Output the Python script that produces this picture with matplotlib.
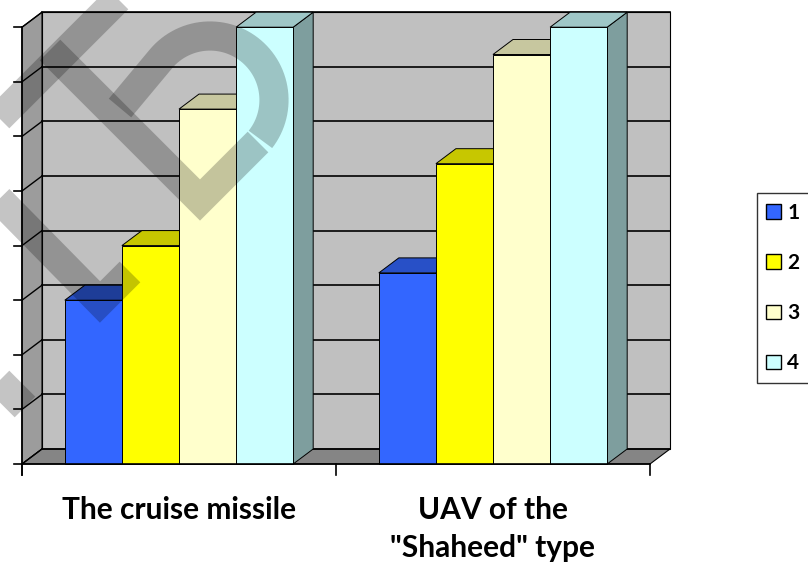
import numpy as np
import matplotlib.pyplot as plt
from matplotlib.patches import Polygon, Patch
from matplotlib.colors import to_rgb

# data
categories = ['The cruise missile', 'UAV of the\n"Shaheed" type']
series_names = ['1', '2', '3', '4']
series_1 = [3.0, 3.5]
series_2 = [4.0, 5.5]
series_3 = [6.5, 7.5]
series_4 = [8.0, 8.0]
series_colors = ['#3366FF', '#FFFF00', '#FFFFCC', '#CCFFFF']
y_ticks = [0, 1, 2, 3, 4, 5, 6, 7, 8]

all_series = [series_1, series_2, series_3, series_4]

# 3d look settings
n_cat = len(categories)
n_ser = len(all_series)
gap = 1.5                       # gap width in bar widths
bar_w = 1.0 / (n_ser + gap)
dx, dy = 0.0637, 0.275          # depth offset
y_top = y_ticks[-1]


def shade(c, f):
    r, g, b = to_rgb(c)
    return (r * f, g * f, b * f)


fig = plt.figure(figsize=(8.08, 5.62), dpi=100)
ax = fig.add_axes([0, 0, 1, 1])
ax.set_xlim(-22 / 314, 786 / 314)
ax.set_ylim(-98 / 54.6, 464 / 54.6)
ax.axis('off')

# walls and floor
ax.add_patch(Polygon([(dx, dy), (n_cat + dx, dy), (n_cat + dx, y_top + dy), (dx, y_top + dy)],
                     fc='#C0C0C0', ec='black', lw=0.8, zorder=1))
ax.add_patch(Polygon([(0, 0), (dx, dy), (dx, y_top + dy), (0, y_top)],
                     fc='#9C9C9C', ec='black', lw=0.8, zorder=1))
ax.add_patch(Polygon([(0, 0), (n_cat, 0), (n_cat + dx, dy), (dx, dy)],
                     fc='#858585', ec='black', lw=0.8, zorder=1))

# gridlines
for k in y_ticks:
    ax.plot([dx, n_cat + dx], [k + dy, k + dy], color='black', lw=1.2, zorder=2)
    ax.plot([0, dx], [k, k + dy], color='black', lw=1.0, zorder=2)

# bars
for ci in range(n_cat):
    for si, vals in enumerate(all_series):
        v = vals[ci]
        c = series_colors[si]
        x0 = ci + bar_w * gap / 2 + si * bar_w
        x1 = x0 + bar_w
        side = Polygon([(x1, 0), (x1 + dx, dy), (x1 + dx, v + dy), (x1, v)],
                       fc=shade(c, 0.62), ec='black', lw=0.7, zorder=3 + si)
        top = Polygon([(x0, v), (x1, v), (x1 + dx, v + dy), (x0 + dx, v + dy)],
                      fc=shade(c, 0.78), ec='black', lw=0.7, zorder=3 + si)
        front = Polygon([(x0, 0), (x1, 0), (x1, v), (x0, v)],
                        fc=c, ec='black', lw=0.7, zorder=3 + si)
        ax.add_patch(side)
        ax.add_patch(top)
        ax.add_patch(front)

# front axes
ax.plot([0, 0], [-0.2, y_top], color='black', lw=1.2, zorder=10)
for k in y_ticks:
    ax.plot([-0.026, 0], [k, k], color='black', lw=1.2, zorder=10)
ax.plot([0, n_cat], [0, 0], color='black', lw=1.2, zorder=10)
for c in range(n_cat + 1):
    ax.plot([c, c], [0, -0.2], color='black', lw=1.2, zorder=10)

# category labels, one text per line
line_y = [(464 - 519) / 54.6, (464 - 557) / 54.6]
for ci, lab in enumerate(categories):
    for li, part in enumerate(lab.split('\n')):
        ax.text(ci + 0.5, line_y[li], part, ha='center', va='baseline', fontsize=21.5,
                fontweight='bold', family='Lato', zorder=10)

# legend
handles = [Patch(facecolor=c, edgecolor='black', lw=1.0) for c in series_colors]
leg = fig.legend(handles, series_names, loc='center left',
                 bbox_to_anchor=(757 / 808, 1 - 288 / 562), frameon=True,
                 fancybox=False, edgecolor='black', handlelength=0.7,
                 handleheight=0.7, handletextpad=0.3, labelspacing=1.45,
                 borderpad=0.45, borderaxespad=0,
                 prop={'family': 'Lato', 'weight': 'bold', 'size': 15})
leg.get_frame().set_linewidth(1.0)

# watermark
W, H = 808.0, 562.0
def fig_pts(pts):
    return [p[0] / W for p in pts], [1 - p[1] / H for p in pts]

wm = dict(color='black', alpha=0.23, lw=21, solid_capstyle='butt',
          solid_joinstyle='miter', transform=fig.transFigure, zorder=20)
for pts in [[(125, -8), (-8, 125)],
            [(50, 50), (200, 200), (258, 142)],
            [(-15, 185), (100, 302), (130, 272)],
            [(-10, 372), (25, 407)]]:
    xs, ys = fig_pts(pts)
    ax.plot(xs, ys, **wm)
# bowl of the letter
theta = np.linspace(np.radians(-38), np.radians(140), 60)
bx = 210 + 64 * np.cos(theta)
by = 100 - 64 * np.sin(theta)
bx = np.append(bx, 120)
by = np.append(by, 108)
xs, ys = fig_pts(list(zip(bx, by)))
ax.plot(xs, ys, **wm)

fig.savefig('out.png', dpi=100)
